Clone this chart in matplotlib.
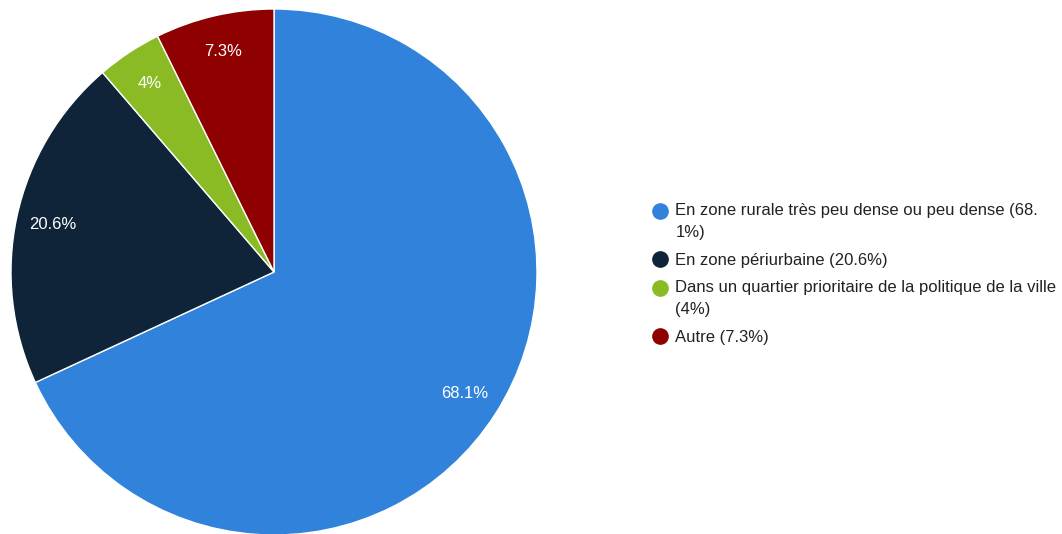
import matplotlib.pyplot as plt
from matplotlib.lines import Line2D
from matplotlib.font_manager import FontProperties

# Lieu de résidence (%)
categories = [
    "En zone rurale très peu dense ou peu dense",
    "En zone périurbaine",
    "Dans un quartier prioritaire de la politique de la ville",
    "Autre",
]
values = [68.1, 20.6, 4, 7.3]
colors = ["#3182db", "#0f2339", "#8abb24", "#8f0000"]

plt.rcParams["font.family"] = ["Liberation Sans", "DejaVu Sans"]

fig = plt.figure(figsize=(10.62, 5.34), dpi=100)
ax = fig.add_axes([11 / 1062, -1 / 534, 526 / 1062, 526 / 534])

wedges, texts = ax.pie(
    values,
    colors=colors,
    startangle=90,
    counterclock=False,
    labels=[f"{v:g}%" for v in values],
    labeldistance=0.86,
    wedgeprops=dict(edgecolor="white", linewidth=1),
    textprops=dict(color="white", fontsize=12),
)
for t in texts:
    t.set_ha("center")
    t.set_va("center")
ax.set_xlim(-1, 1)
ax.set_ylim(-1, 1)
ax.set_aspect("equal")
ax.axis("off")

# legend labels, wrapped to the available width
renderer = fig.canvas.get_renderer()
prop = FontProperties(family=["Liberation Sans"], size=12)
max_w = 384


def text_w(s):
    return renderer.get_text_width_height_descent(s, prop, ismath=False)[0]


def wrap(s):
    lines = []
    while s:
        if text_w(s) <= max_w:
            lines.append(s)
            break
        cut = len(s)
        while cut > 1 and text_w(s[:cut]) > max_w:
            cut -= 1
        brk = max(s.rfind(" ", 0, cut + 1), s.rfind(".", 0, cut) + 1)
        if brk <= 0:
            brk = cut
        lines.append(s[:brk].rstrip())
        s = s[brk:].lstrip()
    return "\n".join(lines)


legend_labels = [wrap(f"{c} ({v:g}%)") for c, v in zip(categories, values)]
handles = [
    Line2D([], [], marker="o", linestyle="none", markersize=11,
           markerfacecolor=col, markeredgecolor=col)
    for col in colors
]
leg = fig.legend(
    handles, legend_labels,
    loc="upper left",
    bbox_to_anchor=(652 / 1062, 1 - 203 / 534),
    frameon=False,
    prop=prop,
    handlelength=0.9,
    handletextpad=0.5,
    labelspacing=0.76,
    borderaxespad=0,
    borderpad=0,
)
for t in leg.get_texts():
    t.set_color("#222222")
    t.set_linespacing(1.58)

# put the dot next to the first line of wrapped entries
line_step = 15.8  # points between wrapped lines
for column in leg._legend_handle_box.get_children():
    for item, lab in zip(column.get_children(), legend_labels):
        n_extra = lab.count("\n")
        if not n_extra:
            continue
        box = item.get_children()[0]
        for art in box.get_children():
            if isinstance(art, Line2D):
                art.set_ydata([y + n_extra * line_step / 2 for y in art.get_ydata()])

fig.savefig("out.png", dpi=100, facecolor="white")
